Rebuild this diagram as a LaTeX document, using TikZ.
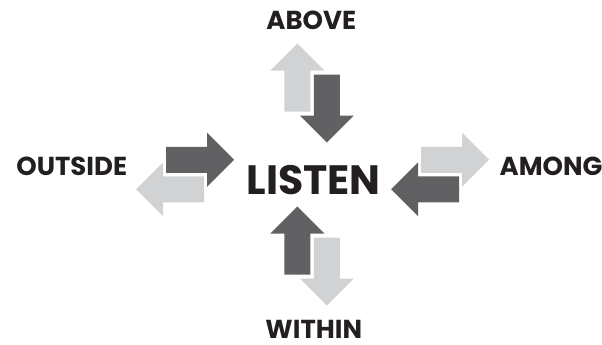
\documentclass[tikz,border=0pt]{standalone}
\usepackage{fontspec}
\setmainfont{Poppins}
\definecolor{darkgr}{HTML}{616163}
\definecolor{lightgr}{HTML}{D1D2D4}
\definecolor{ink}{HTML}{231F20}
\newcommand\flatarrow[4]{%
  \fill[#1, shift={(#2,#3)}, rotate=#4]
    (0,-13) -- (41,-13) -- (41,-27) -- (68,0) -- (41,27) -- (41,13) -- (0,13) -- cycle;}
\tikzset{
  lbl/.style={text=ink, font=\bfseries\fontsize{26}{30}\selectfont, anchor=base, inner sep=0pt, text depth=0pt},
  bigl/.style={text=ink, font=\bfseries\fontsize{41}{50}\selectfont, anchor=base, inner sep=0pt, text depth=0pt}
}
\begin{document}
\begin{tikzpicture}[x=1pt,y=-1pt]
\useasboundingbox (0,0) rectangle (602,345);
% top pair
\flatarrow{lightgr}{297.25}{111.5}{90}
\flatarrow{darkgr}{326.75}{74.5}{-90}
% bottom pair
\flatarrow{darkgr}{297.25}{274.5}{90}
\flatarrow{lightgr}{326.75}{237.5}{-90}
% left pair
\flatarrow{darkgr}{166}{159.75}{0}
\flatarrow{lightgr}{204}{189.25}{180}
% right pair
\flatarrow{lightgr}{421}{159.75}{0}
\flatarrow{darkgr}{459}{189.25}{180}
% labels
\node[lbl] (above) at (311.3,30) {ABOVE};
\node[lbl] (outside) at (71.7,175) {OUTSIDE};
\node[lbl] (among) at (551,175) {AMONG};
\node[lbl] (within) at (313.8,338.5) {WITHIN};
\node[bigl] (listen) at (313.5,194) {LISTEN};
\end{tikzpicture}
\end{document}
